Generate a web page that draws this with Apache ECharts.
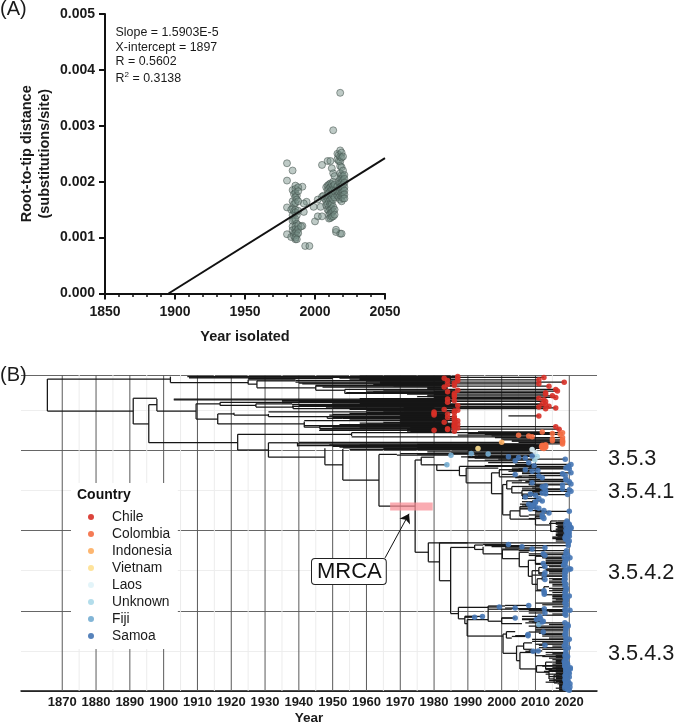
<!DOCTYPE html>
<html><head><meta charset="utf-8">
<style>html,body{margin:0;padding:0;background:#fff}#c{width:675px;height:726px}</style>
<script src="https://cdn.jsdelivr.net/npm/echarts@6/dist/echarts.min.js"></script>
</head><body><div id="c"></div>
<script>
// ---------- Panel A ----------
const rttPoints = [
[2018,.00359],[2013,.00292],[1980,.00233],[1984,.00220],[1980,.00202],[1980,.00154],[1980,.00106],[1983,.00101],[1986,.00097],[1993,.00085],[1996,.00085],
[1991,.00191],[1994,.00164],[1992,.00161],[1992,.00146],[1991,.00121],[1999,.00155],[2000,.00129],[2002,.00138],[2005,.00138],[2004,.00155],[2002,.00168],[2005,.00173],[2005,.00230],[2009,.00237],[2011,.00237],[2012,.00224],[2013,.00215],[2015,.00110],[2018,.00107],[2019,.00107],[2015,.00114],
[1984,.00185],[1985,.00178],[1984,.00165],[1985,.00160],[1984,.00152],[1983,.00150],[1985,.00147],[1984,.00140],[1985,.00132],[1984,.00130],[1984,.00120],[1984,.00113],[1985,.00108],[1985,.00103],
[1986,.00193],[1986,.00187],[1986,.00180],[1987,.00175],[1986,.00172],[1987,.00168],[1986,.00162],[1986,.00150],[1986,.00145],[1987,.00140],[1986,.00133],[1987,.00125],[1986,.00120],[1986,.00115],[1987,.00112],[1986,.00108],[1987,.00105],[1986,.00100],
[1988,.00190],[1988,.00183],[1988,.00165],[1988,.00148],[1988,.00122],[1988,.00115],[1988,.00108],[1987,.00097],[1990,.00120],
[2006,.00175],[2007,.00170],[2008,.00165],[2008,.00158],[2008,.00190],[2009,.00193],[2009,.00185],[2009,.00178],[2009,.00170],[2009,.00160],[2009,.00150],
[2010,.00195],[2010,.00188],[2010,.00180],[2010,.00172],[2010,.00165],[2010,.00155],[2010,.00148],[2010,.00140],[2010,.00134],
[2011,.00197],[2011,.00190],[2011,.00183],[2011,.00175],[2011,.00168],[2011,.00160],[2011,.00150],[2011,.00143],[2011,.00135],
[2012,.00196],[2012,.00186],[2012,.00178],[2012,.00170],[2012,.00160],[2012,.00152],[2012,.00145],[2012,.00137],
[2013,.00200],[2013,.00192],[2013,.00185],[2013,.00176],[2013,.00168],[2013,.00155],[2013,.00147],[2013,.00138],[2014,.00195],[2014,.00183],[2014,.00172],[2014,.00150],[2014,.00141],[2014,.00210],
[2016,.00250],[2016,.00240],[2016,.00182],[2016,.00175],[2016,.00192],
[2017,.00248],[2017,.00237],[2017,.00200],[2017,.00188],[2017,.00180],[2017,.00172],
[2018,.00256],[2018,.00245],[2018,.00236],[2018,.00228],[2018,.00215],[2018,.00205],[2018,.00198],[2018,.00190],[2018,.00182],[2018,.00175],[2018,.00168],
[2019,.00252],[2019,.00243],[2019,.00226],[2019,.00212],[2019,.00205],[2019,.00198],[2019,.00192],[2019,.00186],[2019,.00180],[2019,.00173],[2019,.00165],
[2020,.00245],[2020,.00220],[2020,.00210],[2020,.00203],[2020,.00195],[2020,.00188],[2020,.00182],[2020,.00176],[2020,.00170],
[2021,.00212],[2021,.00205],[2021,.00198],[2021,.00190],[2021,.00184],[2021,.00177],[2021,.00170]
];
const regressionLine = [[1895.4,0],[2050,.00242]];

// ---------- Panel B: tree, in [year, row] units ----------
const majorYears = [1870,1880,1890,1900,1910,1920,1930,1940,1950,1960,1970,1980,1990,2000,2010,2020];
const minorYears = [1875,1885,1895,1905,1915,1925,1935,1945,1955,1965,1975,1985,1995,2005,2015];
const countries = ['Chile','Colombia','Indonesia','Vietnam','Laos','Unknown','Fiji','Samoa'];
const countryColors = ['#d73027','#f46d43','#fdae61','#fee090','#e0f3f8','#abd9e9','#74add1','#4575b4'];

// internal branches: [fromYear, toYear, row]
const internalRuns = [
[1865.6,1902,389],[1865.6,1891,349],[1902,1925,384.6],[1925,1939,388],[1925,1927.6,382.6],[1927.6,1939,386.7],[1927.6,1945,378],[1945,1953.6,375],
[1891,1898,365],[1891,1895.6,333],[1895.6,1898,357],[1898,1909.6,349],[1909.6,1916.7,358],[1916.7,1935,360],[1916.7,1927.3,356],[1927.3,1938,358],[1927.3,1938.3,354],[1938.3,1950,352],
[1909.6,1916,339],[1916,1920.8,345.5],[1920.8,1931,344],[1931,1948.4,342],[1948.4,1953,340],[1916,1941.6,333],[1941.6,1946.2,329],
[1895.6,1921.9,309.6],[1921.9,1955.6,320],[1921.9,1931,300.5],[1931,1939.6,309.5],[1931,1947.7,291.5],[1947.7,1953,282],[1953,1963.7,263],[1963.7,1969,295],[1963.7,1974.4,230.5],
[1974.4,1976.2,288],[1976.2,1980,291.5],[1976.2,1980.8,282],[1980.8,1987.5,275],[1987.5,2006.9,280],[1987.5,1989.5,268.5],[1989.5,1999,278],[1989.5,1997,259.5],[1997,1999.3,272],[1999.3,2004,276],[1999.3,2006,267],[1997,2000.3,246],
[2000.3,2001.5,257.4],[2001.5,2006,262],[2001.5,2003,252],[2003,2008,255],[2003,2006,247],[2006,2010,250],[2006,2009,243],[2000.3,2002.5,219.6],[2002.5,2005.4,224.6],[2005.4,2009,230],[2005.4,2008,218],[2002.5,2010,214.3],[2010,2013,218],[2010,2014.5,207],[2014.5,2016.5,212],[2014.5,2016.5,199],
[1974.4,1978.3,173],[1978.3,1990,184.7],[1978.3,1981.6,161],[1981.6,1990,184.7],[1981.6,1984.9,137.5],[1984.9,1992,179],[1992,1994.5,182],[1992,1994.5,176.5],[1994.5,2000.2,171],[2000.2,2005,176],[2000.2,2005.2,165],[2005.2,2008,173],[2005.2,2007.9,155],[2007.9,2010,163],[2010,2013,168],[2010,2012,158],[2007.9,2009,143],[2009,2011,150],[2011,2013,154],[2011,2013,146],[2009,2010.5,133],[2010.5,2012,140],[2012,2014,143],[2010.5,2012.5,126],[2012.5,2014,130],[2012.5,2015,120],
[1984.9,1987.2,96.5],[1987.2,1996,104.3],[1996,2001,106],[1996,2003,102],[1987.2,1989.1,90],[1989.1,1992,93],[1989.1,1989.8,84],[1989.8,1996,89],[1989.8,1992.7,68.5],[1996,2000,87],[2000,2004,91],[2000,2006,84],[1992.7,2000.4,68.5],[2000.4,2001.4,71],[2001.4,2004,74],[2001.4,2003,66],[2003,2007,68],[2000.4,2004.4,47],[2004.4,2006.5,56],[2006.5,2009,60],[2006.5,2009,52],[2004.4,2005.4,37.8],[2005.4,2010,48],[2010,2012,50],[2010,2013,44],[2005.4,2010.3,27.5],[2010.3,2013,31.6],[2013,2015,36],[2013,2015,27],[2010.3,2014,23.4],[2014,2016,26],[2014,2015.5,15],[2015.5,2017,20],[2015.5,2016.5,10]
];
// dense bundles of short internal branches in the early clades: [fromYear, toYear, row]
const bundleRuns = [
[1907.5,1952,391.5],[1907.5,1950,390.5],[1925,1950,389.5],
[1958,1985,392.5],[1958,1985,391.5],[1958,1985,390.5],[1958,1985,389.5],[1958,1985,388.5],[1958,1985,387.5],
[1964,1983,385.5],[1964,1983,384.5],[1964,1983,383.5],[1964,1983,382.5],[1964,1983,381.5],[1968,1982,380.5],
[1978,1984,378.5],[1978,1984,377.5],[1978,1984,376.5],[1980,1986,373.5],[1980,1986,371.5],[1980,1986,369.5],[1980,1986,367.5],
[1935,1985,361.5],[1935,1985,359.5],[1958,1984,364.5],[1958,1984,363.5],[1958,1984,362.5],[1958,1984,360.5],[1958,1984,358.5],
[1966,1984,357.5],[1966,1984,356.5],[1966,1984,355.5],[1971,1980,353.5],[1971,1980,351.5],[1971,1980,349.5],
[1970,1984,347.5],[1970,1984,346.5],[1970,1984,345.5],[1970,1984,344.5],[1970,1984,343.5],[1970,1984,342.5],[1970,1984,341.5],[1970,1984,340.5],[1970,1984,339.5],[1970,1984,338.5],[1970,1984,337.5],[1970,1984,336.5],[1970,1984,335.5],[1970,1984,334.5],[1970,1984,333.5],
[1973,1985,332.5],[1973,1985,331.5],[1973,1985,330.5],[1973,1985,329],[1973,1985,328.5],[1973,1985,327.5],[1973,1985,326.5],[1973,1985,325.5],[1973,1985,324.5],[1973,1985,323.5],
[1975,2010,307.5],[1975,2010,306],[1975,2010,305],[1975,2010,304],[1975,2010,303],[1990,2010,301],[1990,2010,300],[1978,2009,298],[1992,2010,296],[1992,2010,294]
];
// internal links: [year, rowA, rowB]
const internalLinks = [
[1865.6,349,389],[1902,384.6,392],[1925,382.6,388],[1927.6,378,386.7],[1945,375,381],[1953.6,371,376],
[1891,333,365],[1895.6,309.6,357],[1898,349,364],[1909.6,339,358],[1916.7,356,360],[1927.3,354,358],[1938.3,352,356],
[1916,333,345.5],[1920.8,344,347],[1931,342,345.5],[1948.4,340,343],[1941.6,329,336],[1946.2,327,331],
[1921.9,300.5,320],[1955.6,318,322],[1931,291.5,309.5],[1939.6,305,310],[1947.7,282,302.6],[1953,263,301.8],[1963.7,230.5,295],[1974.4,173,288],
[1976.2,282,291.5],[1980.8,275,282],[1987.5,268.5,280],[1989.5,259.5,278],[1997,246,272],[1999.3,267,276],[2000.3,219.6,257.4],[2001.5,252,262],[2003,247,255],[2006,243,250],[2002.5,214.3,224.6],[2005.4,218,230],[2010,207,218],[2014.5,199,212],
[1978.3,161,184.7],[1981.6,137.5,184.7],[1984.9,96.5,179],[1992,176.5,182],[1994.5,171,180],[2000.2,165,176],[2005.2,155,173],[2007.9,143,163],[2010,158,168],[2009,133,150],[2011,146,154],[2010.5,126,140],[2012,138,143],[2012.5,120,130],
[1987.2,90,104.3],[1989.1,84,93],[1989.8,68.5,89],[1996,87,106],[2000,84,91],[2000.4,47,71],[2001.4,66,74],[2004.4,37.8,56],[2006.5,52,60],[2005.4,27.5,48],[2010,44,50],[2010.3,23.4,31.6],[2013,27,36],[2014,15,26],[2015.5,10,20]
];

// leaves: [fromYear, tipYear, row]
const chileLeaves = [
[1907,1987,392],[1950,2012.5,391],[1952,1983,390],[1955,1987,389],[1958,2011,388],[1939,1984,387],[1960,1987,386.5],[1939,2018.5,385],[1940,1986,384],[1941,2011,383],[1962,1984,382],[1945,1986,381],[1945,2014,380],[1947,1983,379],
[1953.6,2016,376],[1965,1987,375],[1960,2016.5,374],[1962,1984,373],[1954,2013,372],[1953.6,1986,371],[1972,2013,370],[1978,1986,369],[1978,2015,368],[1975,1986,367],[1980,2016,366],[1978,2011,365],
[1903,1984,364],[1903,2012.5,363],[1935,1986,362],[1940,2013,361],[1935,1984,360],[1950,2012,358],[1938,2013,357],[1940,1987,356],[1938,2014,355],[1950,2011,354],[1948,2016,353],[1950,2013,352],[1955,1983,351],[1960,1987,350],[1965,1986,349],
[1931,1980,348],[1960,1986,347],[1955,1980,346],[1950,1984,345],[1949,1980,344],[2002,2011,343],[1948.4,1986,342],[1950,1984,341],[1953,1986,340],[1955,1986,338],[1941.6,1987,337],[1965,1983,335],[1958,1986,334],[1960,1987,333],[1952,1986,332],[1941.6,1986,331],[1962,1986,330],[1946.2,2016,329.5],[1958,1986,329],[1950,1987,328],[1946.2,1984,327],[1946.2,2017,326.5],[1972,1984,326],[1946,1980,325],[1972,1986,324]
];
const colombiaLeaves = [
[1955.6,2018,322],[1990,2015,321],[1993,2012,323],[1995,2017.3,320],[1987,2005,319],[1997,2008,318],[1955.6,2009,317],[1998,2018,316],[2000,2015,314.5],[2000,2018,313],[2003,2018,311.5],[2003,2015,312],[2005,2018,310],
[1939.6,2018,308],[1939.6,2012.5,306],[1950,2011.8,305],[1952,2013,304],[1953,2012,303],[1949,2013,307],[1978,2012.5,302.5],[1960,2013,305.5],[1958,2012,306.5]
];
const indonesiaLeaves = [[1940,2000,310]];
const vietnamLeaves = [[1965,1993,302.5]];
const laosLeaves = [[1955,2009,301],[1985,2010,297]];
const unknownLeaves = [[1990,2010.5,292.5],[1995,2009.8,288]];
const fijiLeaves = [[1969,1985,294],[1970,1991,296],[1975,1996,295.5],[1980.8,1983.8,282],[2011,2011,83]];
const samoaLeaves = [
[1988,2002,292],[1990,2005,291],[1992,2007,290.5],[1993,2009,293],[1990,2004,287],[1996,2008,284.6],[1995,2009.6,281],[1999,2018.8,289],[2004,2020.5,282.5],[2003,2019,278],[1999.3,2007,276],[2002,2009,274],[2000,2004,270],[2003,2010.7,275],[2004,2012,266],[2005,2011,268],[2008,2018.8,268.6],[2006,2020.5,272],[2008,2019.7,279],[2005,2020,277],[2006,2018,271],[2006.9,2019.7,280],
[2003,2009,259.6],[2006,2012,254.7],[2006,2013,250],[2008,2013,246],[2007,2020,261],[2008,2018,257],[2008,2020.5,258],[2010,2020,251],[2009,2020.5,249],[2009,2019.5,245],[2006,2008.5,245.5],[2006,2010,244],[2006,2007,242],[2006,2018,252],[2008,2012,247],[2005,2019,263],[2008,2019,264],[2009,2012.5,253],[2010,2013,256],
[2009,2012,237],[2005.4,2008,233],[2008,2010,229],[2009,2012.5,225],[2005.4,2008.5,227],[2010,2020,224],[2008,2012.5,215],[2005.4,2011,228],[2008,2010,235],[2007,2009,231],[2006,2009,232],[2006,2010,236],[2006,2011,240],[2010,2014,222],[2008,2012,219.5],[2010,2012,217],
[2016.5,2019.3,212],[2014,2019,209],[2016.5,2020,206],[2016.5,2020.5,203],[2016.5,2019,200],[2016.5,2020.5,204],[2016.5,2019.7,196],[2016.5,2019.5,198],[2016.5,2020,193],[2015,2018.7,191],[2016,2019,189],[2016,2020,187],
[2016,2019.5,210],[2016,2020,208],[2016,2019,205],[2016,2019.5,202],[2016,2020,201],[2016,2019.3,199],[2016,2020,197],[2016,2019.5,195],[2016,2019,194],[2015,2019.5,192],[2015,2019,190],
[1990,2019.7,184.7],[1994.5,2002,182.7],[1997,2006,180],[2000,2009,177],[2001,2012.8,178.5],[1995,2019.7,181.4],[2005,2019.2,175],[2008,2012.3,171],[2008,2012.8,169],[2012,2020.2,166],[2013,2019.2,165],[2012,2018.7,159],[2013,2018.3,156.8],[2010,2012.3,159],[2012,2012.8,155],[2013,2018.7,161],[2013,2019,163],[2012,2018.5,167],[2013,2020,152],[2013,2018.7,150],[2011,2012.8,147.4],[2009,2012.6,144.5],[2013,2020.4,152],[2013,2018.7,144.5],[2014,2018.7,147],[2014,2018.7,140],[2014,2018.7,135],[2012,2012.8,139],[2014,2018.5,137],
[2012,2019,172],[2012,2019.5,170],[2013,2018.7,160],[2014,2019,155],[2014,2019,149],[2014,2018.7,143],[2015,2018.7,139],[2015,2019,133],[2015,2019,126],[2015,2019,120],[2015,2018.8,116],[2015,2019,112],[2015,2019,105],
[2014,2019.2,128],[2015,2018.7,122.7],[2010,2012.5,125],[2012,2012.6,122.7],[2012,2012.6,120.7],[2015,2018.7,118],[2015,2020,118.6],[2016,2019.2,113.7],[2010,2018.7,109.6],[2012,2019.2,107.5],[2015,2019,115],[2015,2019,111],[2014,2019,125],[2015,2018.7,131],
[1996,1999.3,104.7],[2001,2004,103.4],[2001,2008,106.7],[2003,2012.6,102.6],[2008,2020.2,100.6],[2005,2018.7,101.4],[2008,2012.8,97.3],[2006,2011.3,93],[1989.1,1992,92],[1989.1,1994.3,93],[2000,2004,91],[2006,2010.3,89],[2009,2012,86],[2008,2012.3,87],[2006,2011.5,90],
[2007,2018.7,85],[2008,2019.7,81],[2010,2019,79],[2010,2019,77],[2010,2019,75],[2008,2012.3,73.5],[2011,2019,72],[2012,2018.7,70.5],[2007,2007.8,70.6],[2004,2007.8,69],[2012,2019,68.5],[2009,2020,64.5],[2009,2019,62],[2012,2019,60],[2010,2019,58.3],[2011,2012.8,57],[2011,2019.7,54],[2012,2019,52],[2008,2010.8,50],[2007,2009.3,49.5],[2013,2019,48],[2013,2019,45],[2012,2019.5,43],[2014,2019,41],[2015,2019,39],
[2015,2018.7,36],[2015,2019.5,33.5],[2013,2018.7,31.6],[2015,2020.3,29],[2015,2020.3,27.5],[2014,2019,25.5],[2016,2019.7,23.5],[2016,2020,22],[2017,2019,20.5],[2016,2018.7,19],[2016,2020,17.5],[2016,2019,15.5],[2015.5,2018.7,14],[2016,2019.7,12],[2017,2019,10.5],[2016.5,2020.2,9],[2017,2019,7],[2017,2020.2,5],[2016,2018.7,3.5],[2017,2019.5,2],
[2012,2018.7,31],[2013,2019,28],[2012.5,2019,24.5],[2013,2019,21],[2014,2019,18],[2014,2019,13],[2013,2019,11],
[2014,2019,99],[2015,2018.7,96],[2012,2019,94.5],[2014,2019.5,83],[2014,2019,66],[2015,2018.5,56],[2015,2019,46.5],[2016,2018.7,44],[2016,2019.3,42],[2016,2019,38],[2016,2018.5,37],[2016,2019.3,35],[2016,2018.7,34.5],[2016,2019,30],[2016,2019.7,26.5],[2016,2019,16.5],[2017,2019,8],[2017,2018.7,6],[2017,2019.5,4],[2017,2020,1]
];
const leavesByCountry = [chileLeaves,colombiaLeaves,indonesiaLeaves,vietnamLeaves,laosLeaves,unknownLeaves,fijiLeaves,samoaLeaves];
const mrcaInterval = [1967,1979.6,225,235];
const mrcaArrow = [[1965.5,166],[1972.6,221]];

const treeSegments = [];
internalRuns.concat(bundleRuns).forEach(r=>treeSegments.push([r[0],r[2],r[1],r[2]]));
internalLinks.forEach(l=>treeSegments.push([l[0],l[1],l[0],l[2]]));
leavesByCountry.forEach(list=>list.forEach(r=>treeSegments.push([r[0],r[2],r[1],r[2]])));

const FONT='"Liberation Sans",Arial,sans-serif';
function segItem(p,api,stroke,w){
  const a=api.coord([api.value(0),api.value(1)]),b=api.coord([api.value(2),api.value(3)]);
  return {type:'line',shape:{x1:a[0],y1:a[1],x2:b[0],y2:b[1]},style:{stroke:stroke,lineWidth:w}};
}
const gridSeg=(years,color,w,z)=>({type:'custom',xAxisIndex:1,yAxisIndex:1,silent:true,z:z,
  data:years.map(y=>[y,0,y,394]),encode:{x:[0,2],y:[1,3]},
  renderItem:(p,api)=>segItem(p,api,color,w)});

const series=[
 {type:'scatter',xAxisIndex:0,yAxisIndex:0,data:rttPoints,symbolSize:7,z:3,silent:true,
  itemStyle:{color:'rgba(120,145,135,0.6)',borderColor:'#44524d',borderWidth:0.7}},
 {type:'line',xAxisIndex:0,yAxisIndex:0,data:regressionLine,showSymbol:false,z:4,silent:true,lineStyle:{color:'#111',width:2}},
 gridSeg(minorYears,'#ececec',1,1),
 gridSeg(majorYears,'#5a5a5a',1,1),
 {type:'custom',xAxisIndex:1,yAxisIndex:1,silent:true,z:2,data:treeSegments,encode:{x:[0,2],y:[1,3]},
  renderItem:(p,api)=>segItem(p,api,'#161616',1.25)},
 {type:'custom',xAxisIndex:1,yAxisIndex:1,silent:true,z:3,data:[mrcaInterval],encode:{x:[0,1],y:[2,3]},
  renderItem:(p,api)=>{const a=api.coord([api.value(0),api.value(3)]),b=api.coord([api.value(1),api.value(2)]);
   return {type:'rect',shape:{x:a[0],y:a[1],width:b[0]-a[0],height:b[1]-a[1]},style:{fill:'rgba(248,140,148,0.72)'}};}},
 {type:'lines',coordinateSystem:'cartesian2d',xAxisIndex:1,yAxisIndex:1,silent:true,z:5,symbol:['none','arrow'],symbolSize:9,
  lineStyle:{color:'#111',width:1,opacity:1},data:[{coords:mrcaArrow}]}
];
countries.forEach((name,i)=>series.push({type:'scatter',name:name,xAxisIndex:1,yAxisIndex:1,silent:true,z:6,symbolSize:5.5,
  data:leavesByCountry[i].map(r=>[r[1],r[2]]),itemStyle:{color:countryColors[i],opacity:0.9}}));

const txt=(t,x,y,size,extra)=>({type:'text',x:x,y:y,z:10,style:Object.assign({text:t,fill:'#1a1a1a',font:size+'px '+FONT,textVerticalAlign:'middle'},extra||{})});
const yearLabel=v=>String(v);

const chart=echarts.init(document.getElementById('c'),null,{renderer:'canvas'});
chart.setOption({
 animation:false,backgroundColor:'#fff',
 grid:[{left:105,top:14,width:280,height:279.5,containLabel:false},{left:21,top:375,width:576,height:319}],
 xAxis:[
  {gridIndex:0,type:'value',min:1850,max:2050,interval:50,splitLine:{show:false},
   axisLine:{onZero:false,lineStyle:{color:'#111',width:2}},axisTick:{length:6,lineStyle:{color:'#111',width:2}},
   minorTick:{show:true,splitNumber:5,length:3.5,lineStyle:{color:'#111',width:1.5}},
   axisLabel:{color:'#1a1a1a',fontFamily:FONT,fontWeight:'bold',fontSize:14,margin:12,formatter:yearLabel},
   name:'Year isolated',nameLocation:'middle',nameGap:36,nameTextStyle:{color:'#1a1a1a',fontFamily:FONT,fontWeight:'bold',fontSize:14.5}},
  {gridIndex:1,type:'value',min:1857.8,max:2028.2,splitLine:{show:false},
   axisLine:{onZero:false,lineStyle:{color:'#111',width:1.5}},
   axisTick:{show:false,customValues:majorYears},
   axisLabel:{customValues:majorYears,color:'#1a1a1a',fontFamily:FONT,fontWeight:'bold',fontSize:13,margin:5,formatter:yearLabel,hideOverlap:false},
   name:'Year',nameLocation:'middle',nameGap:20,nameTextStyle:{color:'#1a1a1a',fontFamily:FONT,fontWeight:'bold',fontSize:13.5}}
 ],
 yAxis:[
  {gridIndex:0,type:'value',min:0,max:0.005,interval:0.001,splitLine:{show:false},
   axisLine:{show:true,onZero:false,lineStyle:{color:'#111',width:2}},axisTick:{show:true,length:6,lineStyle:{color:'#111',width:2}},
   axisLabel:{color:'#1a1a1a',fontFamily:FONT,fontWeight:'bold',fontSize:14,margin:10,formatter:v=>v.toFixed(3)},
   name:'Root-to-tip distance\n(substitutions/site)',nameLocation:'middle',nameGap:51,nameTextStyle:{color:'#1a1a1a',fontFamily:FONT,fontWeight:'bold',fontSize:14.5,lineHeight:18}},
  {gridIndex:1,type:'value',min:0,max:394,interval:100,axisLine:{show:false},axisTick:{show:false},axisLabel:{show:false},
   splitLine:{show:true,lineStyle:{color:'#666',width:1}},
   minorTick:{show:false,splitNumber:2},minorSplitLine:{show:true,lineStyle:{color:'#eeeeee',width:1}}}
 ],
 legend:{data:countries,orient:'vertical',left:71,top:483,icon:'circle',itemWidth:24,itemHeight:6,itemGap:3,
  padding:[27,6,6,17],backgroundColor:'#fff',selectedMode:false,z:8,
  textStyle:{color:'#1a1a1a',fontFamily:FONT,fontSize:13.8,padding:[0,0,0,4]}},
 series:series,
 graphic:[
  txt('(A)',0,9,20),
  txt('(B)',0,375,20),
  txt('Slope = 1.5903E-5',115.6,33,12.4),
  txt('X-intercept = 1897',115.6,47.5,12.4),
  txt('R = 0.5602',115.6,62,12.4),
  txt('R',115.6,79,12.4),
  txt('2',124.5,74.5,8),
  txt('= 0.3138',132.5,79,12.4),
  txt('Country',77,495.5,14,{font:'bold 14px '+FONT,fill:'#111'}),
  txt('3.5.3',608,459,21.7),
  txt('3.5.4.1',608,492,21.7),
  txt('3.5.4.2',608,573,21.7),
  txt('3.5.4.3',608,654,21.7),
  {type:'text',x:312,y:559,z:10,style:{text:'MRCA',fill:'#111',font:'22px '+FONT,backgroundColor:'#fff',borderColor:'#222',borderWidth:1,borderRadius:3,padding:[2,4,1,5]}}
 ]
});
</script></body></html>
